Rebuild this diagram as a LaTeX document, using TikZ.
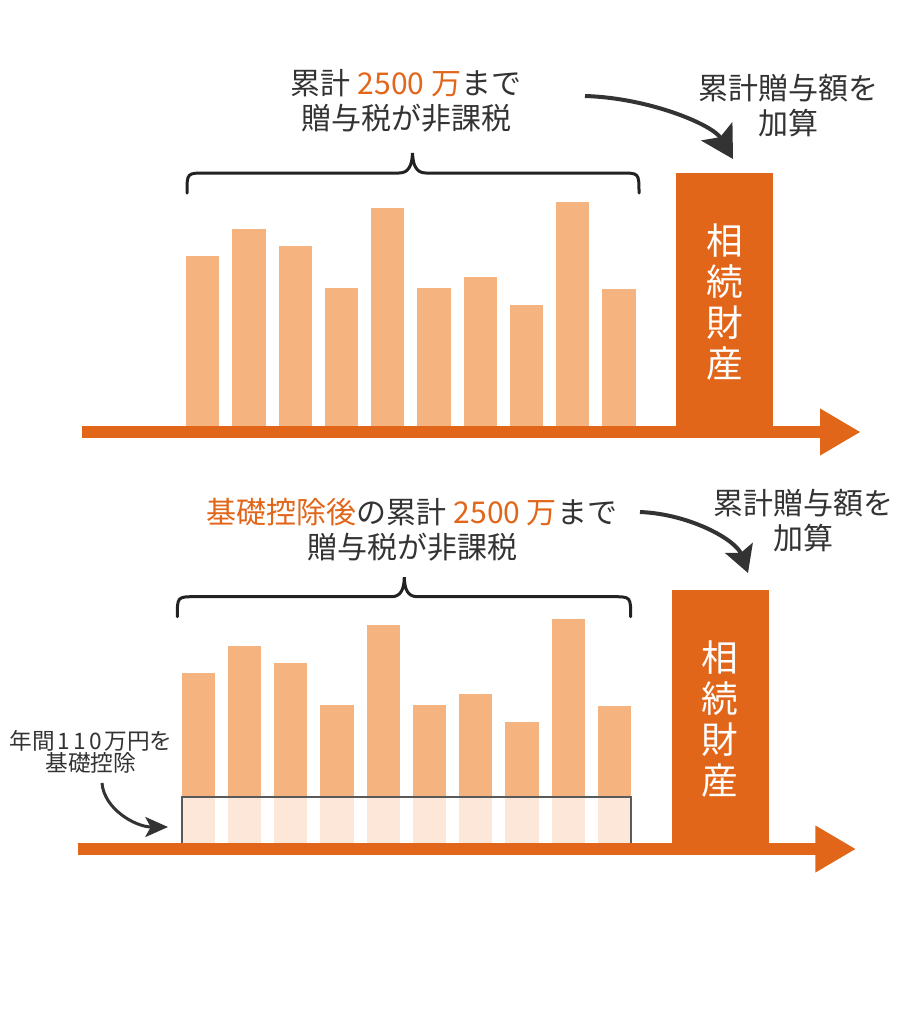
\documentclass[tikz,border=0pt]{standalone}
\usepackage{fontspec}
\setmainfont{Noto Sans CJK JP}
\usepackage{tikz}
\usetikzlibrary{arrows.meta}
\definecolor{inhorange}{HTML}{E2661A}
\definecolor{giftbar}{HTML}{F5B47F}
\definecolor{giftfade}{HTML}{FCE7D9}
\definecolor{textgray}{HTML}{333333}
\definecolor{bracegray}{HTML}{222222}
\definecolor{linegray}{HTML}{5A5A5A}

\tikzset{
  axisline/.style={line width=9.45pt,inhorange,-{Triangle[length=30.5pt,width=33pt]}},
  inhbox/.style={fill=inhorange,text=white,minimum width=72.75pt,minimum height=194.25pt,
    inner sep=0pt,align=center,font=\fontsize{27.5}{30.75}\selectfont},
  note/.style={text=textgray,align=center,font=\fontsize{22.5}{26.25}\selectfont},
  smallnote/.style={text=textgray,align=center,font=\fontsize{17}{16.5}\selectfont},
  curly/.style={line width=2.25pt,bracegray,line cap=round},
  bend arrow/.style={line width=3pt,textgray,-{Stealth[length=24pt,width=27pt,inset=5pt]}},
}

\begin{document}
\begin{tikzpicture}[x=0.75pt,y=-0.75pt]
    \useasboundingbox (0,0) rectangle (920,1021);

    % upper panel
    \foreach \x/\top in {186/256,232.2/229.3,278.5/246,324.7/288.3,371/208.3,
      417.2/288.3,463.5/277,509.7/305,556/202.3,602.2/288.7}
    \fill[giftbar] (\x,\top) rectangle (\x+33.4,432);

    \node[inhbox] (inh1) at (724.8,302.5) {相\\続\\財\\産};

    \coordinate (ax1s) at (81.7,432);
    \coordinate (ax1e) at (860.7,432);
    \draw[axisline] (ax1s) -- (ax1e);

    \draw[curly] (187,193) .. controls (187,173) .. (205,173) -- (399,173)
    .. controls (409,173) and (412,165) .. (412.5,153)
    .. controls (413,165) and (416,173) .. (426,173) -- (621,173)
    .. controls (639,173) .. (639,193);

    \node[note] (sum1) at (406,100.5)
    {累計 {\color{inhorange}2500 万}まで\\贈与税が非課税};
    \node[note] (add1) at (788,105.5) {累計贈与額を\\加算};

    \coordinate (arr1s) at (585,96);
    \coordinate (arr1e) at (733,159);
    \draw[bend arrow] (arr1s) .. controls (650,98) and (713,125) .. (arr1e);

    % lower panel
    \begin{scope}[shift={(-4.5,417)}]
      \foreach \x/\top in {186/256,232.2/229.3,278.5/246,324.7/288.3,371/208.3,
        417.2/288.3,463.5/277,509.7/305,556/202.3,602.2/288.7}
      {
        \fill[giftbar] (\x,\top) rectangle (\x+33.4,432);
        \fill[giftfade] (\x,379.7) rectangle (\x+33.4,432);
      }
      \draw[linegray,line width=1.3pt] (186.2,428) |- (635.6,379.7) -- (635.6,428);

      \node[inhbox] (inh2) at (724.8,302.5) {相\\続\\財\\産};

      \coordinate (ax2s) at (82.2,432);
      \coordinate (ax2e) at (860.5,432);
      \draw[axisline] (ax2s) -- (ax2e);

      \draw[curly] (181.8,199.7) .. controls (181.8,179.7) .. (199.8,179.7) -- (396,179.7)
      .. controls (405.5,179.7) and (408.5,172) .. (408.8,160.3)
      .. controls (409.1,172) and (412,179.7) .. (422,179.7) -- (617,179.7)
      .. controls (635.2,179.7) .. (635.2,199.7);

      \node[note] (sum2) at (416.5,113)
      {{\color{inhorange}基礎控除後}の累計 {\color{inhorange}2500 万}まで\\贈与税が非課税};
      \node[note] (add2) at (807.5,104) {累計贈与額を\\加算};
      \node[smallnote] (ded) at (95.5,335)
      {年間\kern2pt 1\kern2.5pt 1\kern2.5pt 0\kern2pt 万円を\\基礎控除};

      \coordinate (arr2s) at (644.5,95);
      \coordinate (arr2e) at (752.5,156);
      \draw[bend arrow,-{Stealth[length=20pt,width=22pt,inset=4pt]}]
      (arr2s) .. controls (694.5,97) and (740.5,123) .. (arr2e);

      \coordinate (arr3s) at (106.5,366);
      \coordinate (arr3e) at (172.5,410);
      \draw[bend arrow,line width=2.25pt,-{Stealth[length=17pt,width=15pt,inset=4pt]}]
      (arr3s) .. controls (108.5,392) and (140,410) .. (arr3e);
    \end{scope}
  \end{tikzpicture}
\end{document}
